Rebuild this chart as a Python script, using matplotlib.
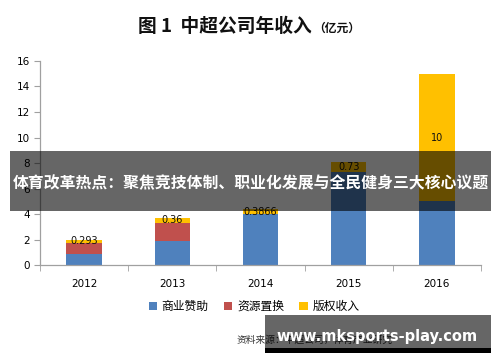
import matplotlib
matplotlib.use("Agg")
import matplotlib.pyplot as plt
from matplotlib.patches import Rectangle
import numpy as np

plt.rcParams['font.family'] = ['Noto Sans CJK SC', 'DejaVu Sans']

years = ['2012', '2013', '2014', '2015', '2016']
sponsor = [0.90, 1.90, 4.00, 7.32, 5.00]      # 商业赞助
resource = [0.83, 1.44, 0.0, 0.0, 0.0]       # 资源置换
rights = [0.293, 0.36, 0.3866, 0.73, 10]      # 版权收入
right_labels = ['0.293', '0.36', '0.3866', '0.73', '10']
series_names = ['商业赞助', '资源置换', '版权收入']
colors = ['#4F81BD', '#C0504D', '#FFC000']
yticks = [0, 2, 4, 6, 8, 10, 12, 14, 16]

fig = plt.figure(figsize=(5, 3.62), dpi=100)
ax = fig.add_axes([0.08, 0.2666, 0.882, 0.5657])

x = np.arange(len(years))
w = 0.4
b1 = ax.bar(x, sponsor, w, color=colors[0], label=series_names[0])
b2 = ax.bar(x, resource, w, bottom=sponsor, color=colors[1], label=series_names[1])
bottom3 = np.array(sponsor) + np.array(resource)
b3 = ax.bar(x, rights, w, bottom=bottom3, color=colors[2], label=series_names[2])

for xi, b, v, lab in zip(x, bottom3, rights, right_labels):
    ax.text(xi, b + v / 2, lab, ha='center', va='center', fontsize=7,
            family='DejaVu Sans', color='#111111')

ax.set_xlim(-0.5, 4.5)
ax.set_ylim(0, 16)
ax.set_yticks(yticks)
ax.set_yticklabels([str(t) for t in yticks], family='DejaVu Sans', fontsize=7.5)
ax.set_xticks(x)
ax.set_xticklabels(years, family='DejaVu Sans', fontsize=7.5)
ax.tick_params(axis='x', which='major', length=0, pad=10)
ax.set_xticks(np.arange(-0.5, 5.0, 1.0), minor=True)
ax.tick_params(axis='x', which='minor', length=4, color='#A0A0A0', direction='out')
ax.tick_params(axis='y', length=4, color='#A0A0A0', pad=3)
for s in ['top', 'right']:
    ax.spines[s].set_visible(False)
for s in ['left', 'bottom']:
    ax.spines[s].set_color('#A0A0A0')
    ax.spines[s].set_linewidth(0.9)

# Title
fig.text(0.624, 0.9116, '图 1  中超公司年收入', ha='right', va='baseline',
         fontsize=13.5, fontweight='bold', color='#111111')
fig.text(0.626, 0.9116, '（亿元）', ha='left', va='baseline',
         fontsize=8.5, fontweight='bold', color='#111111')

# Legend
handles = [b1, b2, b3]
fig.legend(handles, series_names, loc='center', bbox_to_anchor=(0.508, 0.153),
           ncol=3, frameon=False, fontsize=8.5, handlelength=0.7, handleheight=0.7,
           handletextpad=0.4, columnspacing=1.3)

# source text (partly hidden)
fig.text(0.474, 0.061, '资料来源：中超公司，体育产业研究', ha='left', va='center',
         fontsize=7, style='italic', color='#333333')

# Banner overlay
fig.add_artist(Rectangle((0.02, 0.418), 0.962, 0.165, transform=fig.transFigure,
                         facecolor='black', alpha=0.6, edgecolor='none', zorder=10))
fig.text(0.501, 0.4945, '体育改革热点：聚焦竞技体制、职业化发展与全民健身三大核心议题',
         ha='center', va='center', fontsize=11.4, fontweight='bold', color='white', zorder=11)

# Watermark box
fig.add_artist(Rectangle((0.53, 0.0387), 0.452, 0.0912, transform=fig.transFigure,
                         facecolor='black', alpha=0.6, edgecolor='none', zorder=10))
fig.add_artist(Rectangle((0.53, 0.0257), 0.452, 0.013, transform=fig.transFigure,
                         facecolor='black', edgecolor='none', zorder=10))
fig.text(0.755, 0.07, 'www.mksports-play.com', ha='center', va='center',
         fontsize=10.5, fontweight='bold', color='white', family='DejaVu Sans', zorder=11)

fig.savefig('out.png', dpi=100)
